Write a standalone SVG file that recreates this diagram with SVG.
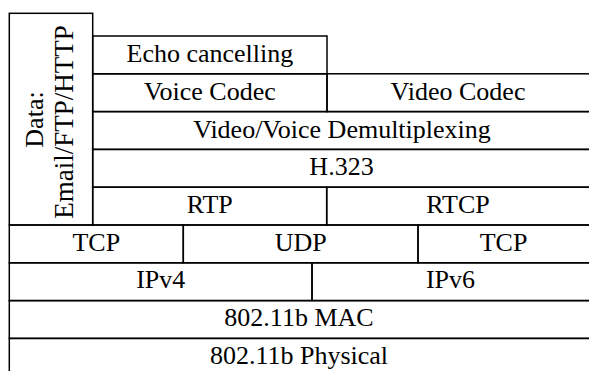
<svg xmlns="http://www.w3.org/2000/svg" width="589" height="371" viewBox="0 0 589 371">
<style>
.c{fill:none;stroke:#000;stroke-width:1.5}
.t{font-family:'Liberation Serif','Times New Roman',Times,'DejaVu Serif',serif;font-size:26px;fill:#000;text-anchor:middle}
</style>
<rect width="589" height="371" fill="#fff"/>
<g id="connectors"></g>
<g id="data"><rect class="c" x="9.3" y="13.3" width="83.4" height="211.7"/>
<text class="t" font-family="Liberation Serif, serif" transform="translate(42.5,119.5) rotate(-90)">Data:</text>
<text class="t" font-family="Liberation Serif, serif" transform="translate(72.5,122) rotate(-90)" style="font-size:27px">Email/FTP/HTTP</text></g>
<g id="echo"><rect class="c" x="92.7" y="36" width="234.3" height="37.8"/><text class="t" x="209.9" y="62">Echo cancelling</text></g>
<g id="voice-codec"><rect class="c" x="92.7" y="73.8" width="234.3" height="37.8"/><text class="t" x="209.9" y="100">Voice Codec</text></g>
<g id="video-codec"><rect class="c" x="327" y="73.8" width="270" height="37.8"/><text class="t" x="458" y="100">Video Codec</text></g>
<g id="demux"><rect class="c" x="92.7" y="111.6" width="505" height="37.8"/><text class="t" x="342" y="137.5">Video/Voice Demultiplexing</text></g>
<g id="h323"><rect class="c" x="92.7" y="149.4" width="505" height="37.8"/><text class="t" x="341.5" y="174.5">H.323</text></g>
<g id="rtp"><rect class="c" x="92.7" y="187.2" width="234" height="37.8"/><text class="t" x="209.7" y="212.5">RTP</text></g>
<g id="rtcp"><rect class="c" x="326.7" y="187.2" width="270" height="37.8"/><text class="t" x="458" y="212.5">RTCP</text></g>
<g id="tcp1"><rect class="c" x="9.3" y="225" width="174" height="37.8"/><text class="t" x="96.3" y="250.5">TCP</text></g>
<g id="udp"><rect class="c" x="183.3" y="225" width="234.7" height="37.8"/><text class="t" x="300.7" y="250.5">UDP</text></g>
<g id="tcp2"><rect class="c" x="418" y="225" width="180" height="37.8"/><text class="t" x="503.5" y="250.5">TCP</text></g>
<g id="ipv4"><rect class="c" x="9.3" y="262.8" width="302.7" height="37.8"/><text class="t" x="160.7" y="288.3">IPv4</text></g>
<g id="ipv6"><rect class="c" x="312" y="262.8" width="285" height="37.8"/><text class="t" x="450.5" y="288.3">IPv6</text></g>
<g id="mac"><rect class="c" x="9.3" y="300.6" width="590" height="37.8"/><text class="t" x="299" y="326.1">802.11b MAC</text></g>
<g id="phy"><rect class="c" x="9.3" y="338.4" width="590" height="45"/><text class="t" x="299" y="363.5">802.11b Physical</text></g>
</svg>
